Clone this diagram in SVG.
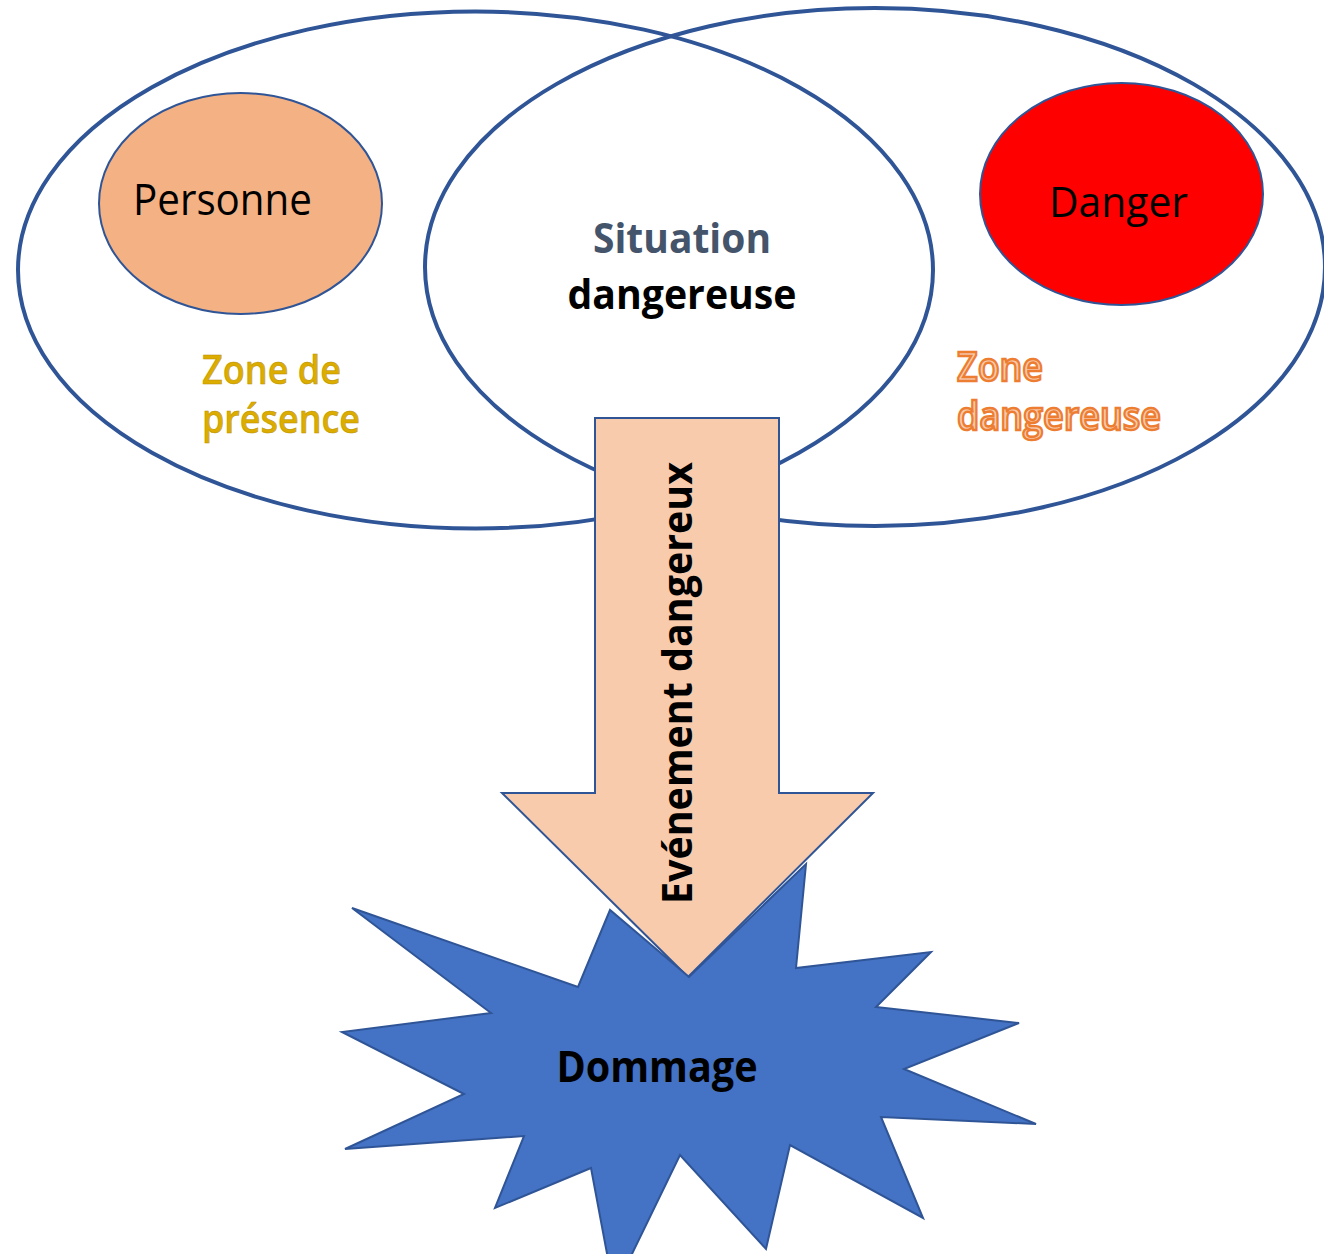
<svg xmlns="http://www.w3.org/2000/svg" width="1324" height="1254" viewBox="0 0 1324 1254">
<style>
.big{fill:none;stroke:#2F5597;stroke-width:4}
.t{font-family:"Open Sans","Noto Sans",sans-serif}
.b{font-weight:bold}
</style>
<rect width="1324" height="1254" fill="#ffffff"/>
<g id="zone-presence">
<ellipse class="big" cx="475.5" cy="270" rx="457.5" ry="258.5"/>
<text class="t" x="202" y="384" font-size="39" font-weight="600" fill="#DCAD00" stroke="#B88F00" stroke-width="0.5" textLength="139" lengthAdjust="spacingAndGlyphs">Zone de</text>
<text class="t" x="202" y="433" font-size="39" font-weight="600" fill="#DCAD00" stroke="#B88F00" stroke-width="0.5" textLength="158" lengthAdjust="spacingAndGlyphs">présence</text>
</g>
<g id="zone-dangereuse">
<ellipse class="big" cx="875" cy="267" rx="450" ry="259"/>
<text class="t" x="957" y="381" font-size="39" font-weight="600" fill="#F8CBAD" stroke="#ED7D31" stroke-width="2.4" textLength="86" lengthAdjust="spacingAndGlyphs">Zone</text>
<text class="t" x="957" y="430" font-size="39" font-weight="600" fill="#F8CBAD" stroke="#ED7D31" stroke-width="2.4" textLength="204" lengthAdjust="spacingAndGlyphs">dangereuse</text>
</g>
<g id="situation">
<text class="t b" x="682" y="253" font-size="42" fill="#44546A" text-anchor="middle" textLength="178" lengthAdjust="spacingAndGlyphs">Situation</text>
<text class="t b" x="682" y="309" font-size="42" fill="#000000" text-anchor="middle" textLength="229" lengthAdjust="spacingAndGlyphs">dangereuse</text>
</g>
<g id="personne">
<ellipse cx="240.5" cy="203.5" rx="141.5" ry="110.5" fill="#F4B183" stroke="#2F5597" stroke-width="2"/>
<text class="t" x="222.5" y="215" font-size="43" fill="#000000" text-anchor="middle" textLength="179" lengthAdjust="spacingAndGlyphs">Personne</text>
</g>
<g id="danger">
<ellipse cx="1121.5" cy="194" rx="141.5" ry="111" fill="#FF0000" stroke="#2F5597" stroke-width="2"/>
<text class="t" x="1118.5" y="217" font-size="42" fill="#000000" text-anchor="middle" textLength="139" lengthAdjust="spacingAndGlyphs">Danger</text>
</g>
<g id="connectors">
<g id="evenement">
<path d="M595,418 L779,418 L779,793 L873,793 L688,977 L502,793 L595,793 Z" fill="#F8CBAD" stroke="#2F5597" stroke-width="2"/>
<text class="t b" transform="translate(692,683) rotate(-90)" x="0" y="0" font-size="41" fill="#000000" text-anchor="middle" textLength="442" lengthAdjust="spacingAndGlyphs">Evénement dangereux</text>
</g>
</g>
<g id="dommage">
<polygon points="352,908 578,987 610,910 689,977 806,864 796,968 931,952 876,1007 1019,1023 904,1069 1036,1124 881,1117 923,1218 790,1145 766,1249 680,1155 614,1291 591,1168 495,1208 524,1136 345,1149 464,1094 342,1032 491,1013" fill="#4472C4" stroke="#2F5597" stroke-width="2" stroke-linejoin="miter"/>
<text class="t b" x="657" y="1082" font-size="43" fill="#000000" text-anchor="middle" textLength="201" lengthAdjust="spacingAndGlyphs">Dommage</text>
</g>
</svg>
